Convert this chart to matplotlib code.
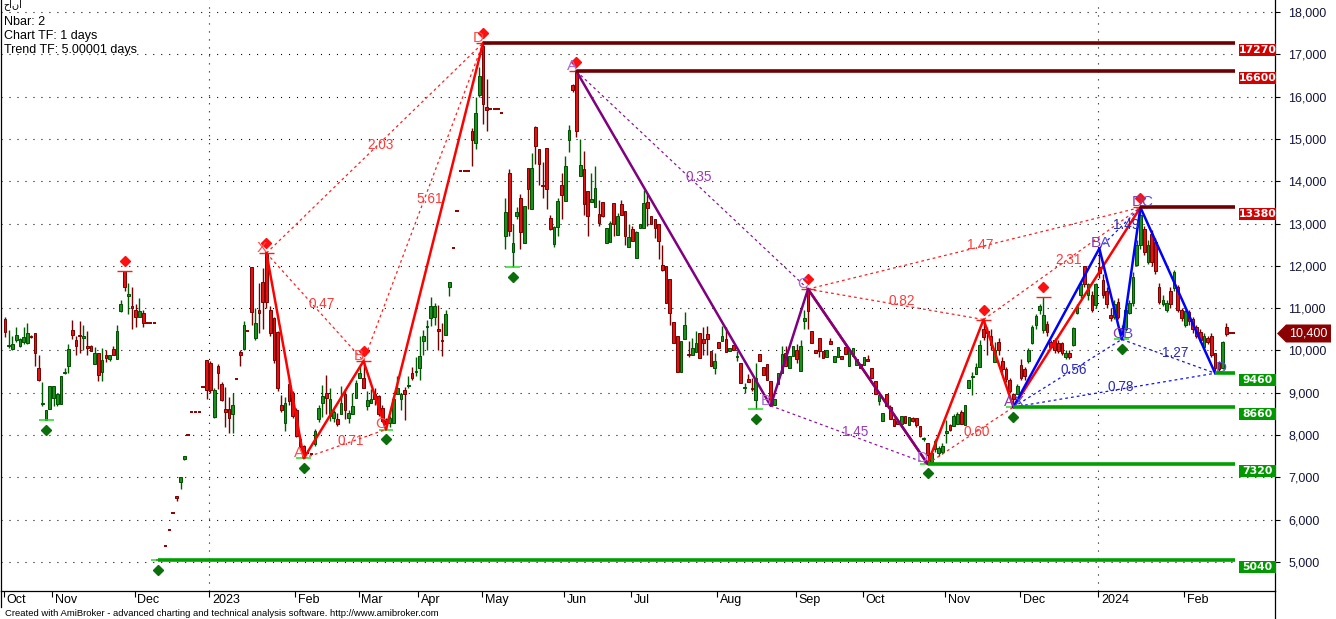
import numpy as np
import matplotlib
matplotlib.use("Agg")
import matplotlib.pyplot as plt
from matplotlib.transforms import offset_copy, IdentityTransform
from matplotlib.patches import Rectangle, Polygon
from matplotlib.lines import Line2D

plt.rcParams['font.family'] = ['Liberation Sans', 'DejaVu Sans']
plt.rcParams['lines.scale_dashes'] = False

# ---------------- DATA (prices in thousands: open, high, low, close) ----------------
oct_2022 = [(10.75,10.78,10.32,10.43),(10.10,10.48,10.06,10.12),(10.04,10.33,10.00,10.16),
            (10.24,10.55,10.20,10.37),(10.10,10.30,10.08,10.27),(10.19,10.55,10.15,10.31),
            (10.18,10.65,10.15,10.40),(10.34,10.36,10.30,10.32),(10.40,10.42,9.63,9.94),
            (9.59,9.88,9.28,9.31),(8.73,9.25,8.69,8.75),(8.35,8.58,8.35,8.58),(8.61,9.17,8.61,9.17)]
nov_2022 = [(8.88,9.17,8.69,9.15),(8.73,8.98,8.69,8.98),(8.73,9.39,8.73,9.39),(9.47,9.59,9.45,9.49),
            (9.63,10.14,9.47,10.04),(10.49,10.73,10.27,10.36),(10.24,10.35,9.90,10.10),
            (10.35,10.69,9.94,10.34),(10.30,10.61,10.02,10.34),(10.10,10.45,9.90,10.06),
            (10.10,10.12,9.98,9.98),(9.69,10.08,9.69,9.94),(9.94,9.94,9.28,9.41),(9.49,10.06,9.28,9.78),
            (9.90,10.02,9.73,9.81),(9.80,9.90,9.75,9.88),(10.04,10.10,9.90,9.90),(9.80,10.59,9.80,10.47),
            (10.94,11.18,10.90,11.10),(11.88,11.88,11.40,11.51),(11.28,11.60,10.87,11.34),
            (11.06,11.49,10.50,11.01)]
dec_2022 = [(10.96,11.10,10.55,10.79),(10.78,11.25,10.78,10.92),(10.88,10.96,10.55,10.65),
            (10.65,10.65,10.65,10.65),(10.65,10.65,10.65,10.65),(10.65,10.65,10.65,10.65),
            (5.04,5.04,5.04,5.04),(5.04,5.04,5.04,5.04),(5.38,5.38,5.38,5.38),(5.76,5.76,5.76,5.76),
            (6.15,6.15,6.15,6.15),(6.56,6.56,6.45,6.50),(6.90,7.00,6.72,7.00),(7.44,7.50,7.40,7.50),
            (8.00,8.00,8.00,8.00),(8.54,8.54,8.54,8.54),(8.54,8.54,8.54,8.54),(8.54,8.54,8.54,8.54),
            (9.13,9.13,9.13,9.13),(9.77,9.77,8.85,9.06)]
jan_2023 = [(9.70,9.75,9.00,9.06),(8.42,9.10,8.40,9.06),(9.63,9.68,9.09,9.47),(9.20,9.25,8.80,8.83),
            (8.61,9.14,8.18,8.54),(8.61,8.90,8.05,8.40),(8.50,9.00,8.05,8.70),(9.32,9.32,9.32,9.32),
            (9.96,10.00,9.62,9.90),(10.03,10.70,10.00,10.60),(10.46,10.46,10.46,10.46),
            (11.97,11.97,10.60,10.90),(10.29,11.00,10.25,10.65),(10.95,11.60,10.40,10.88),
            (11.62,11.95,10.50,11.15),(12.30,12.30,11.00,11.15),(10.95,11.05,10.35,10.40),
            (10.76,10.80,9.70,9.77),(10.43,10.45,9.05,9.11),(8.72,8.95,8.55,8.60),(8.29,8.90,8.10,8.76),
            (9.21,9.30,8.70,8.80),(9.00,9.05,8.40,8.45)]
feb_2023 = [(8.60,8.65,7.95,7.98),(7.90,7.95,7.70,7.74),(7.74,7.76,7.45,7.51),(7.58,7.58,7.58,7.58),
            (7.55,7.55,7.55,7.55),(7.78,8.15,7.75,8.10),(8.37,8.70,8.30,8.65),(8.76,9.18,8.43,8.92),
            (9.00,9.42,8.49,8.88),(8.45,9.10,8.33,8.84),(8.40,8.60,8.30,8.55),(8.37,8.52,8.21,8.25),
            (8.49,9.17,8.49,8.76),(8.96,9.08,8.37,8.60),(8.41,8.60,8.29,8.51),(8.49,9.00,8.49,8.69),
            (8.88,9.31,8.88,9.22)]
mar_2023 = [(9.35,9.63,9.35,9.47),(9.35,9.75,9.10,9.12),(8.68,9.04,8.60,8.82),(8.75,9.08,8.75,8.86),
            (8.96,9.12,8.70,8.84),(8.92,8.95,8.45,8.49),(8.65,8.70,8.30,8.33),(8.37,8.40,8.13,8.25),
            (8.29,8.45,8.20,8.41),(8.29,8.90,8.29,8.84),(8.96,9.40,8.96,9.12),(8.84,9.00,8.60,8.96),
            (9.06,9.14,8.36,8.96),(9.16,9.40,9.10,9.16),(9.47,9.60,9.30,9.35),(9.50,9.85,9.40,9.52)]
apr_2023 = [(9.59,10.35,9.30,9.86),(10.22,10.49,9.90,10.33),(10.55,10.72,10.00,10.57),
            (10.77,11.27,10.57,11.04),(10.80,11.12,10.60,11.04),(10.50,11.08,10.02,10.45),
            (10.25,10.65,9.86,10.22),(10.37,10.95,10.37,10.86),(11.51,11.62,11.28,11.62),
            (12.43,12.43,12.43,12.43),(13.30,13.30,13.30,13.30),(14.23,14.23,14.23,14.23),
            (14.23,14.23,14.23,14.23),(14.23,14.23,14.23,14.23),(15.19,15.25,14.36,14.98),
            (14.91,16.00,14.75,15.62),(16.03,16.70,16.00,16.49)]
may_2023 = [(17.20,17.27,15.35,15.82),(15.76,16.42,15.19,15.69),(15.70,15.70,15.70,15.70),
            (15.70,15.70,15.70,15.70),(15.70,15.70,15.70,15.70),(15.62,15.62,15.62,15.62),
            (12.71,13.60,12.40,13.28),(14.19,14.30,12.70,12.83),(12.32,13.00,11.96,12.54),
            (13.18,13.40,13.10,13.28),(13.61,13.70,12.40,12.79),(12.55,13.42,12.55,13.42),
            (14.31,14.31,13.35,13.81),(13.34,14.67,13.34,14.32),(15.27,15.30,14.40,14.83),
            (14.76,14.76,13.90,14.40),(13.90,14.45,13.60,13.89),(14.78,14.78,13.35,13.81),
            (13.14,13.20,12.85,12.88),(12.51,12.95,12.45,12.91),(12.91,13.60,12.70,13.54),
            (13.91,14.20,13.10,13.67)]
jun_2023 = [(13.54,14.60,13.54,14.36),(14.98,15.32,14.70,15.20),(16.27,16.30,16.10,16.16),
            (16.58,16.60,15.05,15.19),(14.13,15.00,14.13,14.38),(14.28,14.72,13.20,13.46),
            (13.76,13.76,12.70,13.18),(13.50,14.20,13.50,13.57),(13.40,14.35,13.40,13.85),
            (13.22,13.55,12.95,13.01),(13.50,13.50,13.16,13.18),(12.53,12.90,12.53,12.90),
            (12.56,13.05,12.56,13.02),(13.49,13.49,12.70,12.98),(12.74,13.25,12.74,13.17),
            (13.45,13.55,13.21,13.21),(13.29,13.29,12.50,12.70),(12.45,13.00,12.45,12.69)]
jul_2023 = [(12.86,12.95,12.58,12.58),(12.19,12.83,12.19,12.80),(12.90,12.98,12.90,12.98),
            (12.90,13.80,12.90,13.49),(13.50,13.70,12.95,13.37),(13.17,13.17,12.99,12.99),
            (13.11,13.11,12.65,12.90),(12.99,12.99,12.15,12.58),(12.03,12.50,11.88,11.90),
            (11.99,11.99,11.13,11.13),(11.69,11.69,10.60,10.89),(10.68,10.68,10.18,10.18),
            (10.34,10.34,9.49,9.49),(9.49,10.22,9.49,10.22),(10.26,10.90,10.26,10.61),
            (9.90,10.22,9.85,9.89),(9.90,10.30,9.90,10.06),(9.96,10.45,9.96,10.18),
            (10.40,10.40,9.83,9.83),(10.26,10.55,9.90,10.18),(10.38,10.58,9.90,10.26),
            (9.98,9.98,9.63,9.63),(9.59,9.94,9.45,9.76)]
aug_2023 = [(10.20,10.20,10.06,10.06),(10.22,10.58,10.22,10.34),(10.26,10.55,9.96,9.96),
            (9.98,10.06,9.98,10.06),(10.12,10.12,10.02,10.02),(9.84,9.98,9.75,9.85),
            (9.71,9.71,9.24,9.24),(9.12,9.24,9.00,9.13),(9.33,9.45,9.25,9.25),(9.12,9.35,9.05,9.08),
            (8.83,9.70,8.61,9.35),(9.91,9.91,9.75,9.75),(9.61,9.61,9.43,9.43),(9.67,9.67,9.31,9.31),
            (9.28,9.28,8.69,8.72),(8.70,8.86,8.70,8.86),(9.20,9.47,9.20,9.47),(9.47,10.10,9.47,9.91),
            (9.94,10.10,9.63,9.63),(9.59,9.87,9.59,9.87),(9.87,10.10,9.87,10.10)]
sep_2023 = [(10.02,10.15,9.70,9.79),(9.51,10.25,9.51,10.10),(10.69,10.95,10.50,10.77),
            (11.44,11.45,10.50,10.93),(10.46,10.46,10.18,10.18),(10.02,10.02,9.94,9.94),
            (10.30,10.30,9.85,9.98),(9.98,9.98,9.83,9.83),(9.85,10.02,9.85,10.02),
            (10.22,10.30,10.14,10.14),(9.72,9.87,9.72,9.87),(9.85,10.09,9.85,10.09),
            (9.87,9.87,9.79,9.79),(10.09,10.09,9.91,9.91),(9.63,10.01,9.63,10.01),
            (9.87,10.06,9.87,10.06),(9.65,9.79,9.65,9.79),(9.67,9.67,9.59,9.59)]
oct_2023 = [(9.65,9.85,9.65,9.85),(9.79,9.90,9.75,9.75),(9.59,9.59,9.35,9.35),(9.28,9.28,8.96,8.96),
            (8.80,8.94,8.70,8.94),(8.33,8.51,8.33,8.51),(8.96,8.96,8.69,8.69),(8.67,8.70,8.37,8.37),
            (8.37,8.40,8.21,8.21),(8.33,8.33,8.25,8.25),(8.25,8.45,8.25,8.45),(8.45,8.45,8.29,8.29),
            (8.23,8.43,8.23,8.43),(8.40,8.42,8.30,8.32),(8.40,8.40,8.20,8.23),(8.21,8.21,7.96,7.98),
            (7.90,7.95,7.85,7.92),(7.80,7.82,7.32,7.52),(7.36,7.60,7.34,7.58),(7.68,7.90,7.60,7.87),
            (7.58,7.75,7.50,7.69),(7.60,7.80,7.55,7.75)]
nov_2023 = [(8.05,8.35,7.80,8.09),(8.23,8.25,8.10,8.13),(8.21,8.50,8.21,8.46),(8.27,8.55,8.27,8.50),
            (8.54,8.60,8.27,8.27),(8.23,8.72,8.23,8.72),(9.11,9.29,9.11,9.29),(9.37,9.50,8.95,9.37),
            (9.45,9.70,9.45,9.61),(9.61,10.25,9.61,10.12),(10.51,10.73,10.25,10.31),
            (10.45,10.55,9.90,10.40),(10.35,10.50,10.00,10.12),(9.72,10.20,9.72,10.00),
            (10.20,10.30,9.90,10.00),(9.76,9.85,9.50,9.57),(9.57,9.60,9.25,9.33),(9.30,9.35,9.00,9.05),
            (8.98,9.00,8.66,8.86),(8.98,9.20,8.98,9.16)]
dec_2023 = [(9.66,9.80,9.30,9.34),(9.55,9.60,9.30,9.40),(9.74,10.05,9.70,10.00),
            (10.17,10.60,10.15,10.56),(10.60,10.85,10.50,10.81),(10.95,11.10,10.85,11.05),
            (10.48,11.26,10.40,10.84),(10.63,10.70,10.35,10.44),(10.19,10.25,10.05,10.09),
            (10.25,10.30,9.95,10.01),(10.17,10.25,9.95,9.98),(10.17,10.20,9.90,9.93),
            (9.84,10.00,9.80,9.95),(9.95,10.00,9.80,9.85),(10.13,10.55,10.10,10.52),
            (10.89,11.10,10.85,11.03),(11.31,11.65,11.25,11.57),(11.99,12.00,11.50,11.57),
            (11.31,11.60,11.20,11.57),(11.31,11.40,10.90,10.96),(11.07,11.60,11.00,11.57)]
jan_2024 = [(11.98,12.41,11.70,11.82),(11.66,11.80,11.25,11.31),(11.40,11.50,11.00,11.10),
            (10.84,11.00,10.70,10.76),(10.80,11.20,10.75,11.10),(11.15,11.25,10.75,10.80),
            (10.33,10.60,10.26,10.52),(10.50,11.00,10.45,10.95),(10.88,11.20,10.85,11.11),
            (11.11,11.85,11.05,11.74),(12.02,12.60,12.00,12.49),(12.49,13.38,12.40,13.20),
            (12.88,12.95,12.25,12.33),(12.10,12.60,12.05,12.49),(12.75,12.85,12.00,12.10),
            (12.57,12.65,11.80,11.88),(11.51,11.60,11.10,11.15),(11.10,11.30,11.05,11.20),
            (10.96,11.20,10.90,11.11),(11.40,11.50,11.00,11.10),(11.47,11.90,11.40,11.86),
            (11.49,11.55,10.90,10.96),(10.96,11.00,10.70,10.76)]
feb_2024 = [(10.60,10.95,10.55,10.92),(10.90,10.95,10.60,10.70),(10.75,10.80,10.40,10.50),
            (10.55,10.60,10.30,10.35),(10.44,10.50,10.20,10.25),(10.08,10.40,10.05,10.33),
            (10.30,10.35,10.15,10.20),(10.33,10.40,9.85,9.89),(9.93,9.95,9.46,9.58),
            (9.70,9.75,9.50,9.55),(9.58,10.22,9.55,10.19),(10.56,10.65,10.35,10.39),
            (10.40,10.40,10.40,10.40),(10.40,10.40,10.40,10.40)]

months = [oct_2022, nov_2022, dec_2022, jan_2023, feb_2023, mar_2023, apr_2023, may_2023,
          jun_2023, jul_2023, aug_2023, sep_2023, oct_2023, nov_2023, dec_2023, jan_2024, feb_2024]
month_labels = ["Oct", "Nov", "Dec", "2023", "Feb", "Mar", "Apr", "May", "Jun", "Jul",
                "Aug", "Sep", "Oct", "Nov", "Dec", "2024", "Feb"]

# Harmonic patterns: bar numbers of the pivots and whether the pivot is a high or a low
red1_bars, red1_kind, red1_letters = [70, 80, 96, 102, 128], "HLHLH", "XABCD"
red1_ratios = ["0.47", "0.71", "5.61", "2.03"]          # XB, AC, BD, XD
purple_bars, purple_kind, purple_letters = [153, 205, 215, 247], "HLHL", "ABCD"
purple_ratios = ["0.35", "1.45"]                        # AC, BD
red2_bars, red2_kind = [215, 247, 262, 270, 304], "HLHLH"
red2_ratios = ["0.82", "0.60", "2.31", "1.47"]
blue_bars, blue_kind, blue_letters = [270, 293, 299, 304, 324], "LHLHL", "XABCD"
blue_ratios = ["0.56", "1.49", "1.27", "0.78"]
abcd_letters = "ABCD"                                   # second labelling on the blue legs

swing_high_bars = [32, 70, 96, 128, 153, 215, 262, 278, 304]
swing_low_bars = [11, 41, 80, 102, 136, 201, 247, 270, 299]
level_bars = [(128, "H"), (153, "H"), (304, "H"), (324, "L"), (270, "L"), (247, "L"), (41, "L")]

title_lines = ["Nbar: 2", "Chart TF: 1 days", "Trend TF: 5.00001 days"]
ticker_text = "حانا"
footer = "Created with AmiBroker - advanced charting and technical analysis software. http://www.amibroker.com"

# ---------------- BUILD ----------------
bars = np.array([b for m in months for b in m]) * 1000.0
O, H, L, C = bars.T
n = len(O)
idx = np.arange(n)
month_start = np.cumsum([0] + [len(m) for m in months[:-1]])

W, HGT = 1336, 619
fig = plt.figure(figsize=(W / 100, HGT / 100), dpi=100)
fig.patch.set_facecolor("white")
ax = fig.add_axes([1 / W, 28 / HGT, 1274 / W, 591 / HGT])
PX = 3.735  # pixels per bar
ax.set_xlim((1 - 5) / PX, (1275 - 5) / PX)
ax.set_ylim(4312, 18284)

ax.spines["top"].set_visible(False)
for s in ["left", "right", "bottom"]:
    ax.spines[s].set_linewidth(0.9)
    ax.spines[s].set_color("black")

# grid
dot = (0, (0.75, 5.0))
for v in range(5000, 18001, 1000):
    ax.axhline(v, color="black", lw=0.8, ls=dot, zorder=0.5)
for lab, st in zip(month_labels, month_start):
    if lab in ("2023", "2024"):
        ax.axvline(st - 0.4, color="black", lw=0.8, ls=dot, zorder=0.5)

# y axis
ax.yaxis.tick_right()
ax.set_yticks(range(5000, 18001, 1000))
ax.set_yticklabels([f"{v:,}" for v in range(5000, 18001, 1000)])
ax.tick_params(axis="y", direction="out", length=3.5, width=0.8, pad=6,
               labelsize=9, labelcolor="#15153a")
# x axis
ax.set_xticks(month_start - 0.3)
ax.set_xticklabels([])
ax.tick_params(axis="x", direction="out", length=4, width=0.8)
for lab, st in zip(month_labels, month_start):
    ax.annotate(lab, xy=(st - 0.3, 0), xycoords=("data", "axes fraction"),
                xytext=(2.0, -2.0), textcoords="offset points", ha="left", va="top",
                fontsize=9, color="black", annotation_clip=False)

# ---------------- CANDLES ----------------
flat = H == L
up = (C >= O) & ~flat
dn = (C < O) & ~flat
wick_col = np.where(C >= O, "#005c00", "#7a0000")
ax.vlines(idx[~flat], L[~flat], H[~flat], colors=wick_col[~flat], lw=1.0, zorder=2)
bw = 0.72
mh = 24.0
ax.bar(idx[up], np.maximum(C - O, mh)[up], bottom=O[up], width=bw,
       color="#1b8f1b", edgecolor="#005000", lw=0.7, zorder=3)
ax.bar(idx[dn], np.maximum(O - C, mh)[dn], bottom=C[dn], width=bw,
       color="#e01212", edgecolor="#7a0000", lw=0.7, zorder=3)
ax.hlines(O[flat], idx[flat] - 0.45, idx[flat] + 0.45, colors="#8b0000", lw=1.4, zorder=3)

def pivot_price(i, k):
    return H[i] if k == "H" else L[i]

# swing marks
up_off = offset_copy(ax.transData, fig=fig, x=0, y=7.0, units="points")
dn_off = offset_copy(ax.transData, fig=fig, x=0, y=-7.0, units="points")
hp = [H[i] for i in swing_high_bars]
lp = [L[i] for i in swing_low_bars]
ax.hlines(hp, np.array(swing_high_bars) - 2, np.array(swing_high_bars) + 2, colors="#ff1a1a", lw=1.0, zorder=3.5)
ax.hlines(lp, np.array(swing_low_bars) - 2, np.array(swing_low_bars) + 2, colors="#22dd22", lw=1.1, zorder=3.5)
ax.plot(swing_high_bars, hp, ls="none", marker="D", ms=4.6, color="#ff1010", transform=up_off, zorder=6)
ax.plot(swing_low_bars, lp, ls="none", marker="D", ms=4.6, color="#0a6e0a", transform=dn_off, zorder=6)

# ---------------- PATTERNS ----------------
ratio_off = offset_copy(ax.transData, fig=fig, x=4.5, y=2.2, units="points")
letter_off = offset_copy(ax.transData, fig=fig, x=0.5, y=3.8, units="points")
letter_off2 = offset_copy(ax.transData, fig=fig, x=-6.5, y=3.8, units="points")

def dotted(p, q, col, lab, lcol):
    ax.plot([p[0], q[0]], [p[1], q[1]], color=col, lw=0.9, ls=(0, (2.0, 2.2)), zorder=4)
    ax.text((p[0] + q[0]) / 2, (p[1] + q[1]) / 2, lab, transform=ratio_off, ha="center",
            va="center", fontsize=9.8, color=lcol, zorder=7)

def pattern(bars_, kind, col, dcol, lcol, ratios, lw=1.8):
    pts = [(b, pivot_price(b, k)) for b, k in zip(bars_, kind)]
    xs, ys = zip(*pts)
    ax.plot(xs, ys, color=col, lw=lw, zorder=4.5, solid_joinstyle="round")
    if len(pts) == 5:
        pairs = [(0, 2), (1, 3), (2, 4), (0, 4)]
    else:
        pairs = [(0, 2), (1, 3)]
    for (a, b), r in zip(pairs, ratios):
        dotted(pts[a], pts[b], dcol, r, lcol)
    return pts

def letters(pts, txt, col, tr, ha="right"):
    for (x, y), t in zip(pts, txt):
        ax.text(x, y, t, transform=tr, ha=ha, va="center", fontsize=11, color=col, zorder=7)

p_red1 = pattern(red1_bars, red1_kind, "#ff0000", "#ff2020", "#ff3a3a", red1_ratios)
letters(p_red1, red1_letters, "#ff4d4d", letter_off)
p_red2 = pattern(red2_bars, red2_kind, "#ff0000", "#ff2020", "#ff3a3a", red2_ratios)
p_pur = pattern(purple_bars, purple_kind, "#800080", "#8a1a9a", "#9a3ac0", purple_ratios)
letters(p_pur, purple_letters, "#a868d8", letter_off)
p_blue = pattern(blue_bars, blue_kind, "#0000ff", "#1010ff", "#2a2ab8", blue_ratios)
letters(p_blue, blue_letters, "#5a4ad0", letter_off, ha="left")
letters(p_blue[:4], abcd_letters, "#8a3ab0", letter_off2, ha="left")

# ---------------- LEVELS ----------------
fig.canvas.draw()
end_x = n - 0.7
for b, k in level_bars:
    p = pivot_price(b, k)
    lc = "#6e0000" if k == "H" else "#00a000"
    bc = "#d20000" if k == "H" else "#009a00"
    ax.hlines(p, b, end_x, colors=lc, lw=2.6, zorder=5)
    yd = ax.transData.transform((0, p))[1]
    fig.add_artist(Rectangle((1239, yd - 13), 37, 12, transform=IdentityTransform(),
                             facecolor=bc, edgecolor="none", zorder=8))
    fig.add_artist(plt.Text(1257.5, yd - 7, f"{int(round(p))}", transform=IdentityTransform(),
                            ha="center", va="center", color="white", fontsize=7.8,
                            fontweight="bold", family="DejaVu Sans", zorder=9))

# last price tag
last = C[-1]
yd = ax.transData.transform((0, last))[1]
fig.add_artist(Polygon([(1277, yd), (1286, yd + 9), (1331, yd + 9), (1331, yd - 9), (1286, yd - 9)],
                       closed=True, transform=IdentityTransform(), facecolor="#8b0000",
                       edgecolor="none", zorder=8))
fig.add_artist(plt.Text(1308, yd, f"{int(round(last)):,}", transform=IdentityTransform(),
                        ha="center", va="center", color="white", fontsize=9, zorder=9))

# frame extensions below plot
fig.add_artist(Line2D([0.5 / W, 0.5 / W], [28 / HGT, 12 / HGT], transform=fig.transFigure, color="black", lw=0.9))
fig.add_artist(Line2D([1275 / W, 1275 / W], [28 / HGT, 0], transform=fig.transFigure, color="black", lw=0.9))

# texts
fig.text(3 / W, 1 - 5 / HGT, ticker_text, fontsize=7, va="center", ha="left", color="black",
         family=["DejaVu Sans"])
for k, t in enumerate(title_lines):
    fig.text(4 / W, 1 - (22 + 14 * k) / HGT, t, fontsize=9, va="center", ha="left", color="black")
fig.text(5 / W, 1 - 613 / HGT, footer, fontsize=6.8, va="center", ha="left", color="black")

fig.savefig("out.png", dpi=100)
